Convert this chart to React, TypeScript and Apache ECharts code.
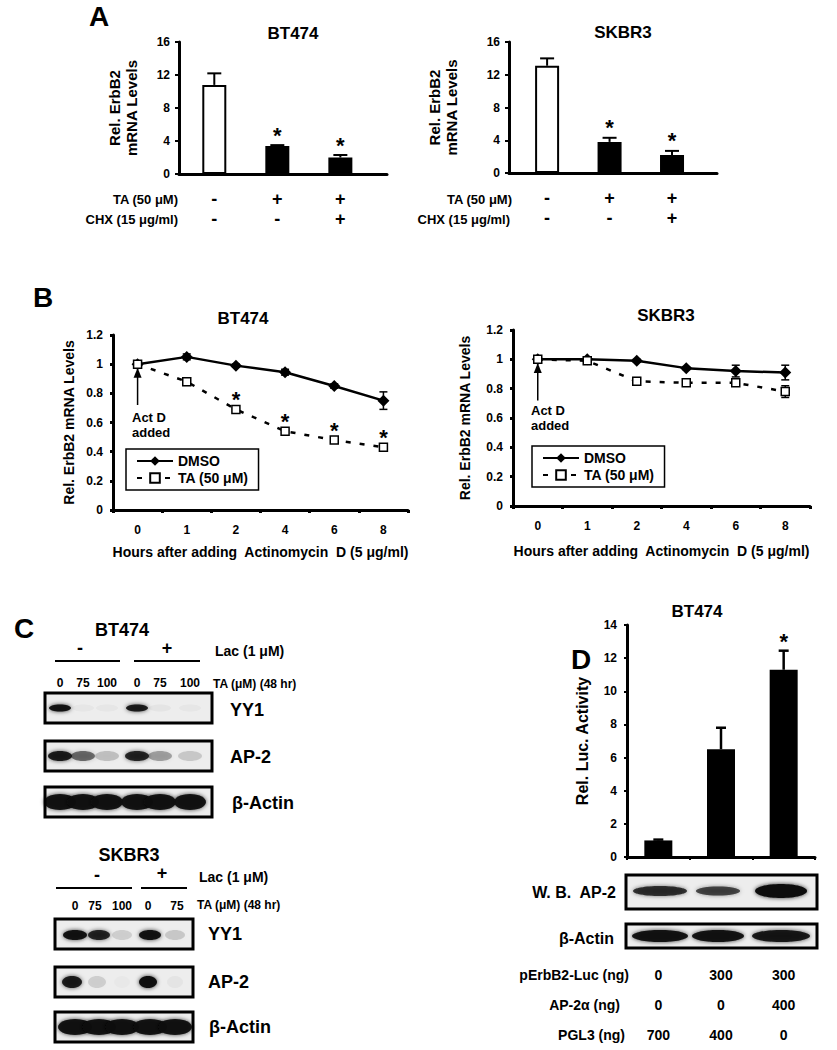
import React, { useEffect, useRef } from 'react';
import * as echarts from 'echarts';

const FONT = 'Liberation Sans, Arial, Helvetica, sans-serif';

// ---------- Panel A data ----------
const aTaRow = ['-', '+', '+'];
const aChxRow = ['-', '-', '+'];
const aBarFill = ['#ffffff', '#000000', '#000000'];
const aBt474Values = [10.8, 3.4, 2.0];
const aBt474Errors = [1.4, 0.1, 0.3];
const aBt474Stars = [false, true, true];
const aSkbr3Values = [13.1, 3.8, 2.2];
const aSkbr3Errors = [0.9, 0.5, 0.5];
const aSkbr3Stars = [false, true, true];
const aYTicks = { min: 0, max: 16, interval: 4 };

// ---------- Panel B data ----------
const hours = ['0', '1', '2', '4', '6', '8'];
const bBt474Dmso = [1.0, 1.05, 0.99, 0.945, 0.85, 0.75];
const bBt474DmsoErr = [0.01, 0.02, 0.01, 0.02, 0.015, 0.06];
const bBt474Ta = [1.0, 0.88, 0.69, 0.54, 0.48, 0.43];
const bBt474TaErr = [0.01, 0.025, 0.015, 0.015, 0.02, 0.015];
const bBt474Stars = [false, false, true, true, true, true];
const bSkbr3Dmso = [1.0, 1.0, 0.99, 0.94, 0.92, 0.91];
const bSkbr3DmsoErr = [0.01, 0.01, 0.01, 0.01, 0.04, 0.05];
const bSkbr3Ta = [1.0, 0.99, 0.85, 0.84, 0.84, 0.78];
const bSkbr3TaErr = [0.015, 0.015, 0.025, 0.01, 0.015, 0.04];
const bActDArrow = [0.72, 0.975];
const seriesNames = ['DMSO', 'TA (50 μM)'];

// ---------- Panel C data (band intensities) ----------
const cBt474Lanes = ['0', '75', '100', '0', '75', '100'];
const cBt474Yy1 = [0.95, 0.03, 0.03, 0.9, 0.04, 0.03];
const cBt474Ap2 = [0.9, 0.5, 0.18, 0.85, 0.3, 0.15];
const cBt474Actin = [0.95, 0.95, 0.95, 0.95, 0.95, 0.95];
const cSkbr3Lanes = ['0', '75', '100', '0', '75'];
const cSkbr3Yy1 = [0.95, 0.85, 0.12, 0.95, 0.15];
const cSkbr3Ap2 = [0.9, 0.12, 0.02, 0.98, 0.04];
const cSkbr3Actin = [0.95, 0.95, 0.95, 0.95, 0.95];

// ---------- Panel D data ----------
const dCategories = ['1', '2', '3'];
const dValues = [1.0, 6.5, 11.3];
const dErrors = [0.05, 1.3, 1.15];
const dStars = [false, false, true];
const dLucRow = ['0', '300', '300'];
const dAp2Row = ['0', '0', '400'];
const dPgl3Row = ['700', '400', '0'];
const dAp2Blot = [0.8, 0.7, 1.0];
const dActinBlot = [0.95, 0.95, 0.92];

// ---------- helpers ----------
const black = '#000';
const axisLine = { show: true, onZero: false, lineStyle: { color: black, width: 3 } };
const tickLabel = (margin: number) => ({ color: black, fontWeight: 'bold', fontSize: 12, fontFamily: FONT, margin });

function txt(text: string, x: number, y: number, size: number, align = 'center', weight = 'bold', lineHeight?: number) {
  return {
    type: 'text', x, y, silent: true,
    style: { text, fill: black, fontSize: size, fontWeight: weight, fontFamily: FONT, textAlign: align, textVerticalAlign: 'middle', lineHeight: lineHeight || size * 1.15 },
  };
}

function errorSeries(xi: number, yi: number, vals: number[], errs: number[], capW: number, both: boolean, lw: number) {
  return {
    type: 'custom', xAxisIndex: xi, yAxisIndex: yi, silent: true, clip: false, z: 3,
    data: vals.map((v, i) => [i, v, errs[i]]),
    renderItem: (params: any, api: any) => {
      const x = api.value(0), v = api.value(1), e = api.value(2);
      const top = api.coord([x, v + e]);
      const bot = api.coord([x, both ? v - e : v]);
      const st = { stroke: black, lineWidth: lw };
      const children: any[] = [
        { type: 'line', shape: { x1: top[0], y1: top[1], x2: bot[0], y2: bot[1] }, style: st },
        { type: 'line', shape: { x1: top[0] - capW / 2, y1: top[1], x2: top[0] + capW / 2, y2: top[1] }, style: st },
      ];
      if (both) children.push({ type: 'line', shape: { x1: bot[0] - capW / 2, y1: bot[1], x2: bot[0] + capW / 2, y2: bot[1] }, style: st });
      return { type: 'group', children };
    },
  };
}

function arrowSeries(xi: number, yi: number, from: number, to: number) {
  return {
    type: 'custom', xAxisIndex: xi, yAxisIndex: yi, silent: true, clip: false, z: 6,
    data: [[0, from, to]],
    renderItem: (params: any, api: any) => {
      const a = api.coord([api.value(0), api.value(1)]);
      const b = api.coord([api.value(0), api.value(2)]);
      return {
        type: 'group',
        children: [
          { type: 'line', shape: { x1: a[0], y1: a[1], x2: b[0], y2: b[1] + 8 }, style: { stroke: black, lineWidth: 1.5 } },
          { type: 'polygon', shape: { points: [[b[0], b[1]], [b[0] - 4, b[1] + 10], [b[0] + 4, b[1] + 10]] }, style: { fill: black } },
        ],
      };
    },
  };
}

function starSeries(xi: number, yi: number, tops: number[], flags: boolean[], dy: number, size = 22) {
  return {
    type: 'custom', xAxisIndex: xi, yAxisIndex: yi, silent: true, clip: false, z: 4,
    data: tops.map((t, i) => [i, t]),
    renderItem: (params: any, api: any) => {
      if (!flags[params.dataIndex]) return null;
      const p = api.coord([api.value(0), api.value(1)]);
      return { type: 'text', x: p[0], y: p[1] - dy + size * 0.23, style: { text: '*', fill: black, fontSize: size, fontWeight: 'bold', fontFamily: FONT, textAlign: 'center', textVerticalAlign: 'middle' } };
    },
  };
}

function signRowSeries(xi: number, yi: number, rows: string[][]) {
  return {
    type: 'custom', xAxisIndex: xi, yAxisIndex: yi, silent: true, clip: false,
    data: rows[0].map((_, i) => [i, 0]),
    renderItem: (params: any, api: any) => {
      const i = params.dataIndex;
      const p = api.coord([api.value(0), 0]);
      return {
        type: 'group',
        children: rows.map((row, r) => ({
          type: 'text', x: p[0], y: p[1] + 25 + r * 20,
          style: { text: row[i], fill: black, fontSize: 18, fontWeight: 'bold', fontFamily: FONT, textAlign: 'center', textVerticalAlign: 'middle' },
        })),
      };
    },
  };
}

function blot(x: number, y: number, w: number, h: number, lanesX: number[], alphas: number[], cy: number, rx: number[] | number, ry: number[] | number) {
  const els: any[] = [{ type: 'rect', silent: true, shape: { x, y, width: w, height: h }, style: { fill: '#ededed' } }];
  lanesX.forEach((cx, i) => {
    const a = alphas[i];
    if (a <= 0) return;
    const rxx = Array.isArray(rx) ? rx[i] : rx;
    const ryy = Array.isArray(ry) ? ry[i] : ry;
    els.push({
      type: 'ellipse', silent: true, shape: { cx, cy, rx: rxx, ry: ryy },
      style: { fill: `rgba(12,12,12,${a})`, shadowBlur: 4, shadowColor: `rgba(12,12,12,${a * 0.8})` },
    });
  });
  els.push({ type: 'rect', silent: true, shape: { x, y, width: w, height: h }, style: { fill: 'none', stroke: black, lineWidth: 3 } });
  return els;
}

function hline(x1: number, x2: number, y: number, lw = 2) {
  return { type: 'line', silent: true, shape: { x1, y1: y, x2, y2: y }, style: { stroke: black, lineWidth: lw } };
}

function buildOption() {
  const yName = (name: string, gap: number, size = 14) => ({
    name, nameLocation: 'middle', nameGap: gap, nameRotate: 90,
    nameTextStyle: { color: black, fontWeight: 'bold', fontSize: size, fontFamily: FONT, lineHeight: size + 2 },
  });

  const grid = [
    { left: 179, top: 42, width: 208, height: 132 },
    { left: 509, top: 42, width: 208, height: 131 },
    { left: 113, top: 335, width: 295, height: 175 },
    { left: 513, top: 330, width: 297, height: 176 },
    { left: 627, top: 625, width: 188, height: 232 },
  ];

  const xName = { color: black, fontWeight: 'bold', fontSize: 14, fontFamily: FONT };
  const xAxis: any[] = [
    { type: 'value', gridIndex: 0, min: -0.56, max: 2.74, axisLine, axisTick: { show: false }, axisLabel: { show: false }, splitLine: { show: false } },
    { type: 'value', gridIndex: 1, min: -0.61, max: 2.72, axisLine, axisTick: { show: false }, axisLabel: { show: false }, splitLine: { show: false } },
    {
      type: 'category', gridIndex: 2, data: hours, axisLine, boundaryGap: true,
      axisTick: { show: true, length: 3, lineStyle: { color: black, width: 3 } },
      axisLabel: tickLabel(14),
      name: 'Hours after adding  Actinomycin  D (5 μg/ml)', nameLocation: 'middle', nameGap: 35, nameTextStyle: xName,
    },
    {
      type: 'category', gridIndex: 3, data: hours, axisLine, boundaryGap: true,
      axisTick: { show: true, length: 3, lineStyle: { color: black, width: 3 } },
      axisLabel: tickLabel(14),
      name: 'Hours after adding  Actinomycin  D (5 μg/ml)', nameLocation: 'middle', nameGap: 38, nameTextStyle: xName,
    },
    {
      type: 'category', gridIndex: 4, data: dCategories, axisLine, boundaryGap: true,
      axisTick: { show: true, length: 3, lineStyle: { color: black, width: 2 } },
      axisLabel: {
        color: black, fontWeight: 'bold', fontSize: 14, fontFamily: FONT, margin: 103, lineHeight: 30, interval: 0,
        formatter: (_v: string, i: number) => `${dLucRow[i]}\n${dAp2Row[i]}\n${dPgl3Row[i]}`,
      },
    },
  ];

  const yTick = { show: true, length: 4, lineStyle: { color: black, width: 2 } };
  const yAxis: any[] = [
    { type: 'value', gridIndex: 0, ...aYTicks, axisLine, axisTick: yTick, splitLine: { show: false }, axisLabel: tickLabel(9), ...yName('Rel. ErbB2\nmRNA Levels', 39, 15) },
    { type: 'value', gridIndex: 1, ...aYTicks, axisLine, axisTick: yTick, splitLine: { show: false }, axisLabel: tickLabel(9), ...yName('Rel. ErbB2\nmRNA Levels', 49, 15) },
    { type: 'value', gridIndex: 2, min: 0, max: 1.2, interval: 0.2, axisLine, axisTick: { show: true, length: 3, lineStyle: { color: black, width: 3 } }, splitLine: { show: false }, axisLabel: tickLabel(10), ...yName('Rel. ErbB2 mRNA Levels', 36) },
    { type: 'value', gridIndex: 3, min: 0, max: 1.2, interval: 0.2, axisLine, axisTick: { show: true, length: 3, lineStyle: { color: black, width: 3 } }, splitLine: { show: false }, axisLabel: tickLabel(10), ...yName('Rel. ErbB2 mRNA Levels', 40) },
    { type: 'value', gridIndex: 4, min: 0, max: 14, interval: 2, axisLine, axisTick: { show: true, length: 3, lineStyle: { color: black, width: 2 } }, splitLine: { show: false }, axisLabel: tickLabel(10), ...yName('Rel. Luc. Activity', 36, 16) },
  ];

  const aBars = (xi: number, vals: number[]) => ({
    type: 'bar', xAxisIndex: xi, yAxisIndex: xi, barWidth: 24, silent: true, z: 2,
    data: vals.map((v, i) => ({ value: [i, v], itemStyle: { color: aBarFill[i], borderColor: black, borderWidth: 2 } })),
  });

  const lineSeries = (xi: number, vals: number[], which: number) => ({
    type: 'line', name: seriesNames[which], xAxisIndex: xi, yAxisIndex: xi, data: vals, z: 4, silent: true,
    symbol: which === 0 ? 'diamond' : 'rect', symbolSize: which === 0 ? 12 : 8,
    itemStyle: which === 0 ? { color: black } : { color: '#fff', borderColor: black, borderWidth: 1.5 },
    lineStyle: which === 0 ? { color: black, width: 2.5, type: 'solid' } : { color: black, width: 2.5, type: [5, 9] },
  });

  const series: any[] = [
    // A BT474
    aBars(0, aBt474Values),
    errorSeries(0, 0, aBt474Values, aBt474Errors, 14, false, 2),
    starSeries(0, 0, aBt474Values.map((v, i) => v + aBt474Errors[i]), aBt474Stars, 15),
    signRowSeries(0, 0, [aTaRow, aChxRow]),
    // A SKBR3
    aBars(1, aSkbr3Values),
    errorSeries(1, 1, aSkbr3Values, aSkbr3Errors, 14, false, 2),
    starSeries(1, 1, aSkbr3Values.map((v, i) => v + aSkbr3Errors[i]), aSkbr3Stars, 15),
    signRowSeries(1, 1, [aTaRow, aChxRow]),
    // B BT474
    errorSeries(2, 2, bBt474Dmso, bBt474DmsoErr, 8, true, 1.5),
    errorSeries(2, 2, bBt474Ta, bBt474TaErr, 8, true, 1.5),
    lineSeries(2, bBt474Dmso, 0),
    lineSeries(2, bBt474Ta, 1),
    starSeries(2, 2, bBt474Ta, bBt474Stars, 15),
    arrowSeries(2, 2, bActDArrow[0], bActDArrow[1]),
    // B SKBR3
    errorSeries(3, 3, bSkbr3Dmso, bSkbr3DmsoErr, 8, true, 1.5),
    errorSeries(3, 3, bSkbr3Ta, bSkbr3TaErr, 8, true, 1.5),
    lineSeries(3, bSkbr3Dmso, 0),
    lineSeries(3, bSkbr3Ta, 1),
    arrowSeries(3, 3, bActDArrow[0], bActDArrow[1]),
    // D
    { type: 'bar', xAxisIndex: 4, yAxisIndex: 4, barWidth: 28, silent: true, data: dValues, itemStyle: { color: black } },
    errorSeries(4, 4, dValues, dErrors, 10, false, 2.5),
    starSeries(4, 4, dValues.map((v, i) => v + dErrors[i]), dStars, 14),
  ];

  const legendBase = {
    data: seriesNames, orient: 'vertical', selectedMode: false,
    borderColor: black, borderWidth: 1.5, padding: [5, 10, 5, 10], itemGap: 3,
    itemWidth: 36, itemHeight: 12,
    textStyle: { color: black, fontWeight: 'bold', fontSize: 14, fontFamily: FONT },
  };
  const legend = [
    { ...legendBase, left: 126, top: 449 },
    { ...legendBase, left: 532, top: 446 },
  ];

  const bt474Lane = [60, 83, 107, 137, 160, 190];
  const skbr3Lane = [75, 99, 122, 150, 175];
  const dLane = [660, 718, 781];

  const elements: any[] = [
    // panel letters
    txt('A', 99, 16, 28), txt('B', 43, 297, 28), txt('C', 24, 628, 28), txt('D', 581, 659, 28),
    // A
    txt('BT474', 293, 33, 17), txt('SKBR3', 623, 32, 17),
    txt('TA (50 μM)', 178, 199, 13, 'right'), txt('CHX (15 μg/ml)', 178, 219, 13, 'right'),
    txt('TA (50 μM)', 512, 199, 13, 'right'), txt('CHX (15 μg/ml)', 510, 219, 13, 'right'),
    // B
    txt('BT474', 243, 318, 17), txt('SKBR3', 666, 315, 17),
    txt('Act D\nadded', 132, 425, 13, 'left', 'bold', 15),
    txt('Act D\nadded', 531, 418, 13, 'left', 'bold', 15),
    // C BT474
    txt('BT474', 122, 630, 18), txt('-', 80, 648, 18), txt('+', 167, 648, 18),
    hline(55, 120, 661), hline(134, 200, 661),
    txt('Lac (1 μM)', 215, 651, 14, 'left'),
    ...cBt474Lanes.map((l, i) => txt(l, bt474Lane[i], 683, 12)),
    txt('TA (μM) (48 hr)', 213, 684, 12, 'left'),
    ...blot(45, 693, 167, 30, bt474Lane, cBt474Yy1, 708, 11, 3.5),
    ...blot(45, 741, 167, 30, bt474Lane, cBt474Ap2, 756, 12, 5),
    ...blot(45, 787, 167, 30, bt474Lane, cBt474Actin, 802, 16, 8),
    txt('YY1', 230, 710, 18, 'left'), txt('AP-2', 230, 757, 18, 'left'), txt('β-Actin', 232, 803, 18, 'left'),
    // C SKBR3
    txt('SKBR3', 129, 855, 18), txt('-', 97, 875, 18), txt('+', 162, 873, 18),
    hline(56, 132, 888), hline(141, 187, 888),
    txt('Lac (1 μM)', 199, 877, 14, 'left'),
    ...cSkbr3Lanes.map((l, i) => txt(l, [75, 95, 122, 148, 177][i], 906, 12)),
    txt('TA (μM) (48 hr)', 197, 905, 12, 'left'),
    ...blot(55, 919, 138, 30, skbr3Lane, cSkbr3Yy1, 935, [12, 11, 10, 11, 10], 5),
    ...blot(55, 967, 138, 30, [72, 97, 122, 148, 175], cSkbr3Ap2, 982, [10, 9, 8, 9, 8], 6),
    ...blot(55, 1012, 138, 30, skbr3Lane, cSkbr3Actin, 1027, 17, 8),
    txt('YY1', 208, 934, 18, 'left'), txt('AP-2', 208, 982, 18, 'left'), txt('β-Actin', 209, 1027, 18, 'left'),
    // D
    txt('BT474', 697, 611, 17),
    ...blot(626, 875, 191, 34, dLane, dAp2Blot, 891, [27, 22, 26], [5, 4.5, 7]),
    ...blot(626, 924, 191, 24, dLane, dActinBlot, 936, [28, 26, 29], 6),
    txt('W. B.  AP-2', 616, 892, 16, 'right'), txt('β-Actin', 614, 938, 16, 'right'),
    txt('pErbB2-Luc (ng)', 629, 975, 14, 'right'),
    txt('AP-2α (ng)', 620, 1005, 14, 'right'),
    txt('PGL3 (ng)', 625, 1035, 14, 'right'),
  ];

  return {
    animation: false,
    backgroundColor: '#fff',
    textStyle: { fontFamily: FONT },
    grid, xAxis, yAxis, series, legend,
    graphic: { elements },
  };
}

export default function App() {
  const ref = useRef<HTMLDivElement>(null);
  useEffect(() => {
    document.body.style.margin = '0';
    const chart = echarts.init(ref.current!, null, { renderer: 'svg' });
    chart.setOption(buildOption() as any);
    return () => chart.dispose();
  }, []);
  return <div ref={ref} style={{ position: 'absolute', left: 0, top: 0, width: 837, height: 1050, background: '#fff' }} />;
}
